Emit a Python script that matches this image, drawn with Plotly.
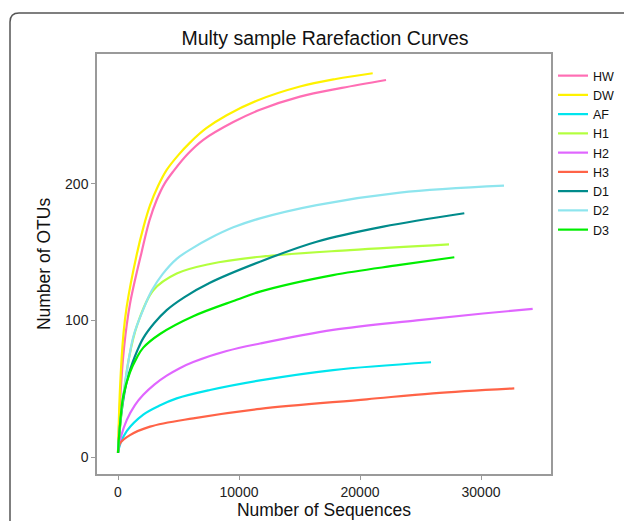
import plotly.graph_objects as go

# ---- data ----
names = ["HW", "DW", "AF", "H1", "H2", "H3", "D1", "D2", "D3"]
colors = ["#FF6EB4", "#FFF200", "#00E5EE", "#B3FF3E", "#E066FF", "#FF6347",
          "#008B8B", "#8EE5EE", "#00EE00"]

HW_x = [0, 200, 500, 990, 1955, 2600, 3195, 3850, 4570, 5800, 7050, 9530, 11735, 15040, 18500, 22150]
HW_y = [3, 45, 80, 112, 150, 173, 188, 200, 209, 222, 232, 245, 254, 263.6, 270, 275.8]
DW_x = [0, 165, 450, 720, 1545, 2100, 2645, 3300, 4025, 5000, 5950, 7300, 8980, 11460, 15040, 18000, 21050]
DW_y = [3, 50, 90, 110, 148, 168, 184, 198, 210, 221, 230, 240.5, 250, 260.6, 271, 276.5, 280.7]
AF_x = [0, 200, 720, 2090, 3400, 4850, 7600, 11735, 17770, 25870]
AF_y = [3, 10, 19, 31, 37.5, 42.9, 49, 56, 63.6, 69.3]
H1_x = [0, 300, 900, 1600, 2920, 4850, 7600, 11735, 19170, 27355]
H1_y = [3, 33, 72, 97, 122, 134.2, 141.2, 146.5, 151.4, 155.6]
H2_x = [0, 250, 720, 1400, 2090, 3000, 4025, 5100, 6220, 8980, 11735, 17770, 24685, 30165, 34270]
H2_y = [3, 15, 27, 38, 45.5, 53, 59.5, 65, 69.5, 77.5, 83, 93, 100, 105, 108.3]
H3_x = [0, 165, 990, 2645, 6220, 11735, 20550, 26030, 32750]
H3_y = [4, 10, 16, 22.2, 28.3, 35.2, 42.2, 46.6, 50.2]
D1_x = [0, 250, 720, 1200, 1600, 2090, 3000, 4025, 5500, 7600, 11735, 16420, 21930, 28620]
D1_y = [3, 30, 55, 69, 78, 87, 98, 107.5, 117, 127.5, 142.9, 157.5, 168.5, 178.3]
D2_x = [0, 300, 580, 1267, 2090, 2800, 3700, 4850, 6200, 7600, 9530, 11735, 16420, 23300, 31900]
D2_y = [4, 35, 54, 88, 108, 122, 134, 145, 153, 160, 168, 174.6, 184.3, 193.4, 198.5]
D3_x = [0, 150, 440, 990, 1545, 2090, 3470, 6220, 9810, 11735, 17770, 23300, 27795]
D3_y = [3, 22, 45, 62, 72.5, 80, 90, 103, 115, 121, 133.1, 140.5, 146.1]

xs = [HW_x, DW_x, AF_x, H1_x, H2_x, H3_x, D1_x, D2_x, D3_x]
ys = [HW_y, DW_y, AF_y, H1_y, H2_y, H3_y, D1_y, D2_y, D3_y]

x_ticks = [0, 10000, 20000, 30000]
y_ticks = [0, 100, 200]

FONT = "Liberation Sans, Arial, sans-serif"

fig = go.Figure()
for n, c, x, y in zip(names, colors, xs, ys):
    fig.add_trace(go.Scatter(x=x, y=y, name=n, mode="lines",
                             line=dict(color=c, width=2.2, shape="spline", smoothing=1.0)))

# plot area pixel geometry
L, R, T, B = 97, 551, 54, 474
W, H = 624, 521
pw, ph = R - L, B - T

def px(xp):
    return (xp - L) / pw

def py(yp):
    return (B - yp) / ph

# outer rounded card border
x0, y0 = px(10), py(13)
x1, yb = px(700), py(600)
rx, ry = 9 / pw, 9 / ph
path = (f"M {x0},{yb} L {x0},{y0 - ry} Q {x0},{y0} {x0 + rx},{y0} L {x1},{y0}")

fig.update_layout(
    width=W, height=H,
    margin=dict(l=L, r=W - R, t=T, b=H - B, autoexpand=False),
    paper_bgcolor="white", plot_bgcolor="white",
    font=dict(family=FONT, color="#111111"),
    title=dict(text="Multy sample Rarefaction Curves", x=px(325), xref="paper",
               y=1 - 38 / H, yref="container", xanchor="center", yanchor="middle",
               font=dict(size=19.5, color="#111111", family=FONT)),
    showlegend=True,
    legend=dict(x=px(553), y=py(61), xanchor="left", yanchor="top",
                font=dict(size=12.5, color="#111111", family=FONT),
                tracegroupgap=0, itemwidth=30, bgcolor="rgba(0,0,0,0)"),
    shapes=[dict(type="path", path=path, xref="paper", yref="paper",
                 line=dict(color="#555555", width=1.5), layer="above")],
)

fig.update_xaxes(range=[(L - 118) / 121 * 10000, (R - 118) / 121 * 10000],
                 tickvals=x_ticks, ticktext=[str(v) for v in x_ticks],
                 showgrid=False, zeroline=False,
                 showline=True, mirror=True, linecolor="#9a9a9a", linewidth=1.5,
                 ticks="outside", ticklen=4, tickcolor="#9a9a9a", tickwidth=1,
                 tickfont=dict(size=14, color="#222222"),
                 title=dict(text="Number of Sequences", font=dict(size=17.5, color="#111111"), standoff=2))
fig.update_yaxes(range=[-(B - 457) / 1.367, (457 - T) / 1.367],
                 tickvals=y_ticks, ticktext=[str(v) for v in y_ticks],
                 showgrid=False, zeroline=False,
                 showline=True, mirror=True, linecolor="#9a9a9a", linewidth=1.5,
                 ticks="outside", ticklen=4, tickcolor="#9a9a9a", tickwidth=1,
                 tickfont=dict(size=14, color="#222222"),
                 title=dict(text="Number of OTUs", font=dict(size=17.5, color="#111111"), standoff=10))

fig.write_html("out.html", config={"displayModeBar": False},
               post_script="document.body.style.margin='0px';document.body.style.padding='0px';")
